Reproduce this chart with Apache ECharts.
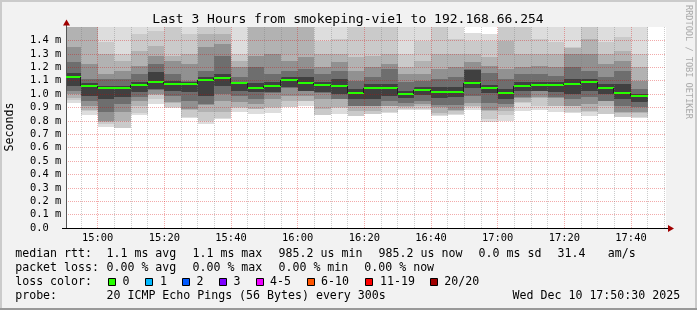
<!DOCTYPE html>
<html>
<head>
<meta charset="utf-8">
<script src="https://cdn.jsdelivr.net/npm/echarts@6/dist/echarts.min.js"></script>
<style>
html,body{margin:0;padding:0;background:#f2f2f2;}
#c{width:697px;height:310px;}
</style>
</head>
<body>
<div id="c"></div>
<script>
// ---------------- data ----------------
const titleText = 'Last 3 Hours from smokeping-vie1 to 192.168.66.254';
const viewStart = '14:50:30';
const viewEnd = '17:50:30';
const slotMinutes = 5;
const slotStarts = ['14:50','14:55','15:00','15:05','15:10','15:15','15:20','15:25','15:30','15:35',
  '15:40','15:45','15:50','15:55','16:00','16:05','16:10','16:15','16:20','16:25',
  '16:30','16:35','16:40','16:45','16:50','16:55','17:00','17:05','17:10','17:15',
  '17:20','17:25','17:30','17:35','17:40'];
const xTickLabels = ['15:00','15:20','15:40','16:00','16:20','16:40','17:00','17:20','17:40'];

// median rtt (ms)
const median = [1.130,1.062,1.047,1.047,1.070,1.092,1.077,1.077,1.107,1.122,1.085,1.047,1.062,1.107,1.085,1.070,1.062,1.010,1.047,1.047,1.002,1.032,1.017,1.017,1.085,1.047,1.010,1.062,1.070,1.070,1.077,1.092,1.047,1.010,0.985];

// smoke bands (ms): outermost (1) to innermost (6)
const smokeHi1 = [1.60,1.60,1.60,1.60,1.60,1.60,1.60,1.60,1.60,1.60,1.60,1.60,1.60,1.60,1.60,1.60,1.60,1.60,1.60,1.60,1.60,1.60,1.60,1.60,1.455,1.448,1.60,1.60,1.60,1.60,1.60,1.60,1.60,1.60,1.60];
const smokeHi2 = [1.56,1.56,1.386,1.299,1.448,1.473,1.55,1.448,1.55,1.55,1.299,1.56,1.56,1.56,1.56,1.398,1.41,1.55,1.55,1.55,1.299,1.398,1.55,1.41,1.398,1.398,1.55,1.55,1.41,1.386,1.348,1.55,1.386,1.423,1.299];
const smokeHi3 = [1.52,1.52,1.299,1.249,1.323,1.361,1.286,1.299,1.448,1.448,1.249,1.52,1.52,1.52,1.52,1.299,1.299,1.274,1.286,1.299,1.199,1.249,1.299,1.299,1.299,1.274,1.398,1.299,1.299,1.299,1.346,1.41,1.299,1.323,1.199];
const smokeHi4 = [1.348,1.224,1.149,1.174,1.211,1.286,1.249,1.224,1.348,1.373,1.199,1.286,1.299,1.249,1.274,1.199,1.236,1.174,1.199,1.224,1.149,1.149,1.187,1.199,1.236,1.211,1.187,1.199,1.211,1.199,1.299,1.299,1.224,1.249,1.100];
const smokeHi5 = [1.236,1.112,1.112,1.112,1.149,1.224,1.149,1.100,1.174,1.286,1.124,1.199,1.149,1.174,1.187,1.149,1.174,1.100,1.124,1.187,1.087,1.100,1.112,1.124,1.190,1.157,1.112,1.149,1.149,1.137,1.199,1.174,1.124,1.174,1.037];
const smokeHi6 = [1.154,1.080,1.062,1.062,1.087,1.162,1.095,1.090,1.124,1.150,1.090,1.080,1.087,1.124,1.124,1.087,1.110,1.037,1.075,1.075,1.025,1.050,1.050,1.050,1.180,1.070,1.037,1.087,1.087,1.087,1.112,1.112,1.075,1.075,1.000];
const smokeLo6 = [1.062,0.988,0.963,0.975,1.012,1.037,1.025,1.012,0.988,1.062,1.025,1.012,1.012,1.050,1.025,1.012,1.000,0.963,0.963,0.988,0.970,0.995,0.970,0.975,1.045,1.007,0.963,1.025,1.025,1.012,1.000,1.025,1.000,0.963,0.938];
const smokeLo5 = [1.025,0.950,0.863,0.925,0.975,1.030,0.988,0.950,0.925,1.000,0.988,0.963,1.010,1.045,1.020,1.010,0.963,0.913,0.913,0.950,0.933,0.945,0.920,0.920,0.982,0.933,0.925,0.975,1.022,0.975,0.963,0.975,0.950,0.913,0.900];
const smokeLo4 = [1.000,0.913,0.800,0.863,0.950,1.000,0.938,0.888,0.920,0.950,0.938,0.925,0.963,0.988,0.988,0.963,0.960,0.910,0.910,0.913,0.908,0.925,0.900,0.883,0.933,0.883,0.900,0.973,0.975,0.973,0.913,0.925,0.948,0.863,0.863];
const smokeLo3 = [0.970,0.880,0.790,0.800,0.913,0.990,0.935,0.880,0.863,0.863,0.900,0.888,0.900,0.950,0.950,0.888,0.900,0.876,0.876,0.910,0.900,0.908,0.860,0.870,0.907,0.870,0.870,0.938,0.973,0.913,0.910,0.870,0.913,0.860,0.860];
const smokeLo2 = [0.955,0.875,0.775,0.750,0.860,0.963,0.900,0.826,0.800,0.821,0.898,0.886,0.898,0.905,0.948,0.846,0.898,0.838,0.850,0.863,0.885,0.885,0.840,0.850,0.905,0.810,0.840,0.936,0.913,0.910,0.863,0.868,0.850,0.830,0.826];
const smokeLo1 = [0.933,0.846,0.756,0.748,0.846,0.925,0.897,0.820,0.776,0.815,0.863,0.850,0.855,0.900,0.913,0.840,0.850,0.835,0.848,0.860,0.883,0.878,0.833,0.845,0.883,0.788,0.795,0.876,0.880,0.863,0.860,0.838,0.848,0.828,0.823];

// legend texts
const legendRtt = ['median rtt:','1.1 ms avg','1.1 ms max','985.2 us min','985.2 us now','0.0 ms sd','31.4','am/s'];
const legendLoss = ['packet loss:','0.00 % avg','0.00 % max','0.00 % min','0.00 % now'];
const lossLabels = ['0','1','2','3','4-5','6-10','11-19','20/20'];
const lossColors = ['#26ff00','#00b8ff','#0059ff','#7e00ff','#ee00ff','#ff5500','#ff0000','#a10000'];
const probeText = ['probe:','20 ICMP Echo Pings (56 Bytes) every 300s','Wed Dec 10 17:50:30 2025'];

// ---------------- build ----------------
const FONT = 'DejaVu Sans Mono';
function toMin(s){ const p = s.split(':').map(Number); return p[0]*60 + p[1] + (p[2]||0)/60; }
const xMin = toMin(viewStart), xMax = toMin(viewEnd);
const yMin = 0, yMax = 1.5;
const t0 = slotStarts.map(toMin);
const xTickValues = xTickLabels.map(toMin);

const layerColors = ['#dddddd','#cacaca','#b2b2b2','#919191','#6e6e6e','#404040'];
const layers = [[smokeLo1,smokeHi1],[smokeLo2,smokeHi2],[smokeLo3,smokeHi3],[smokeLo4,smokeHi4],[smokeLo5,smokeHi5],[smokeLo6,smokeHi6]];
const smokeData = [];
layers.forEach(function(pair,k){
  t0.forEach(function(t,i){ smokeData.push([t, t+slotMinutes, pair[0][i], pair[1][i], k]); });
});
const medianData = t0.map(function(t,i){ return [t, t+slotMinutes, median[i], i>0?median[i-1]:median[i]]; });
const gridTimes = [];
for (let t = Math.ceil(xMin/slotMinutes)*slotMinutes; t <= xMax; t += slotMinutes) gridTimes.push([t, t % 20 === 0 ? 1 : 0]);

const majorColor = 'rgba(215,0,0,0.33)';
const minorColor = 'rgba(120,120,120,0.38)';

// graphic (texts / frame)
const graphics = [];
graphics.push({type:'rect', shape:{x:0,y:0,width:697,height:2}, style:{fill:'#cbcbcb'}, z:100});
graphics.push({type:'rect', shape:{x:0,y:0,width:2,height:310}, style:{fill:'#cbcbcb'}, z:100});
graphics.push({type:'rect', shape:{x:695,y:0,width:2,height:310}, style:{fill:'#cbcbcb'}, z:100});
graphics.push({type:'rect', shape:{x:0,y:308,width:697,height:2}, style:{fill:'#999999'}, z:100});
graphics.push({type:'text', x:348, y:19.5, style:{text:titleText, fontFamily:FONT, fontSize:13, fill:'#000', align:'center', verticalAlign:'middle'}});
graphics.push({type:'text', x:688.5, y:5, rotation:-Math.PI/2, style:{text:'RRDTOOL / TOBI OETIKER', fontFamily:FONT, fontSize:8.6, fill:'#aaaaaa', align:'left', verticalAlign:'middle'}});
graphics.push({type:'text', x:10.3, y:127, rotation:Math.PI/2, style:{text:'Seconds', fontFamily:FONT, fontSize:11.6, fill:'#000', align:'center', verticalAlign:'middle'}});
function legText(x, y, s){ graphics.push({type:'text', x:x, y:y, style:{text:s, fontFamily:FONT, fontSize:11.6, fill:'#000', align:'left', verticalAlign:'middle'}}); }
const rttX = [15.2,106.5,192.5,278.6,378.6,478.6,557.5,607.8];
legendRtt.forEach(function(s,i){ legText(rttX[i], 254.3, s); });
const lossX = [15.2,106.5,192.5,278.5,364.3];
legendLoss.forEach(function(s,i){ legText(lossX[i], 268.3, s); });
legText(15.2, 282.3, 'loss color:');
const boxX = [108.5,145.5,182.5,219.5,256.5,307.5,365.5,430.5];
const boxLabelX = [122.6,160.0,196.6,233.6,270.0,321.0,380.0,444.3];
lossLabels.forEach(function(s,i){
  graphics.push({type:'rect', shape:{x:boxX[i], y:278.5, width:7, height:7}, style:{fill:lossColors[i], stroke:'#000', lineWidth:1}});
  legText(boxLabelX[i], 282.3, s);
});
const probeX = [15.2,106.5,512.6];
probeText.forEach(function(s,i){ legText(probeX[i], 296.3, s); });
// axis arrows / extensions
graphics.push({type:'line', shape:{x1:62, y1:228.5, x2:669, y2:228.5}, style:{stroke:'#000', lineWidth:1}, z:50});
graphics.push({type:'line', shape:{x1:66.5, y1:25, x2:66.5, y2:28}, style:{stroke:'#555', lineWidth:1}, z:50});
graphics.push({type:'polygon', shape:{points:[[668,225],[674,228.5],[668,232]]}, style:{fill:'#a00000'}, z:51});
graphics.push({type:'polygon', shape:{points:[[63,25.5],[66.5,19.5],[70,25.5]]}, style:{fill:'#a00000'}, z:51});

const chart = echarts.init(document.getElementById('c'), null, {renderer:'canvas', width:697, height:310});
chart.setOption({
  animation:false,
  backgroundColor:'#f2f2f2',
  grid:{left:66, top:27, width:600, height:201, show:true, backgroundColor:'#ffffff', borderWidth:0},
  xAxis:{type:'value', min:xMin, max:xMax, z:6,
    axisLine:{show:true, onZero:false, lineStyle:{color:'#000', width:1}},
    axisTick:{show:false}, splitLine:{show:false},
    axisLabel:{show:true, customValues:xTickValues, hideOverlap:false, margin:5, color:'#000', fontFamily:FONT, fontSize:10.4,
      formatter:function(v){ const i = xTickValues.indexOf(v); return i>=0 ? xTickLabels[i] : ''; }}
  },
  yAxis:{type:'value', min:yMin, max:yMax, interval:0.1, z:3,
    axisLine:{show:true, lineStyle:{color:'#555', width:1}},
    axisTick:{show:false},
    axisLabel:{align:'left', margin:36, color:'#000', fontFamily:FONT, fontSize:10.4, showMaxLabel:false,
      formatter:function(v){ return v===0 ? '0.0' : v.toFixed(1)+' m'; }},
    splitLine:{show:true, showMinLine:false, showMaxLine:false, lineStyle:{color:majorColor, width:1, type:[1,1]}}
  },
  graphic:graphics,
  series:[
    {type:'custom', name:'smoke', z:2, clip:true, silent:true, data:smokeData,
      encode:{x:[0,1], y:[2,3]},
      renderItem:function(params, api){
        const a = api.coord([api.value(0), api.value(3)]);
        const b = api.coord([api.value(1), api.value(2)]);
        const x0 = Math.round(a[0]), x1 = Math.round(b[0]);
        const y0 = Math.round(a[1]), y1 = Math.round(b[1]);
        return {type:'rect', shape:{x:x0, y:y0, width:x1-x0, height:y1-y0}, style:{fill:layerColors[api.value(4)]}};
      }},
    {type:'custom', name:'vgrid', z:3, clip:true, silent:true, data:gridTimes,
      encode:{x:0},
      renderItem:function(params, api){
        const a = api.coord([api.value(0), yMin]);
        const b = api.coord([api.value(0), yMax]);
        const x = Math.floor(a[0]) + 0.5;
        return {type:'line', shape:{x1:x, y1:a[1], x2:x, y2:b[1]},
          style:{stroke: api.value(1) ? majorColor : minorColor, lineWidth:1, lineDash:[1,1]}};
      }},
    {type:'custom', name:'median', z:5, clip:true, silent:true, data:medianData,
      encode:{x:[0,1], y:2},
      renderItem:function(params, api){
        const a = api.coord([api.value(0), api.value(2)]);
        const b = api.coord([api.value(1), api.value(2)]);
        const p = api.coord([api.value(0), api.value(3)]);
        const y = Math.round(a[1]), yp = Math.round(p[1]);
        const x0 = Math.round(a[0]), x1 = Math.round(b[0]);
        return {type:'group', children:[
          {type:'line', shape:{x1:x0-0.5, y1:yp, x2:x0-0.5, y2:y}, style:{stroke:'#202020', lineWidth:1}},
          {type:'line', shape:{x1:x0, y1:y, x2:x1, y2:y}, style:{stroke:lossColors[0], lineWidth:2}}
        ]};
      }}
  ]
});
</script>
</body>
</html>
